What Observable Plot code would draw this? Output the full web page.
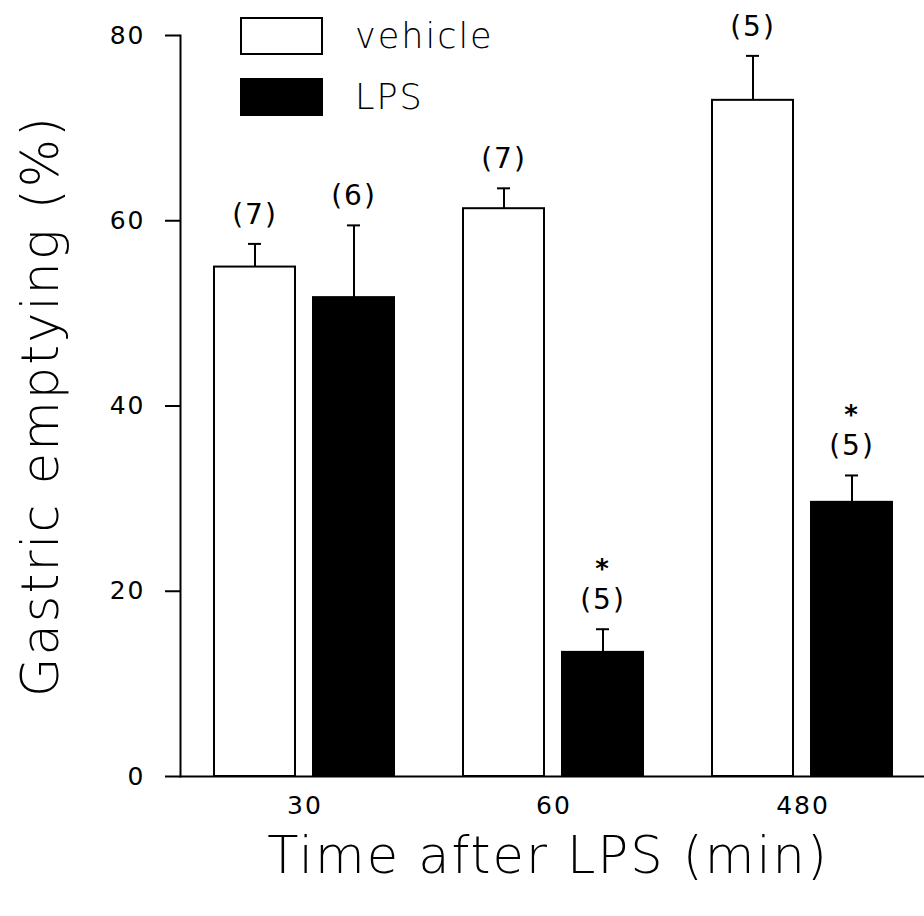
<!DOCTYPE html>
<html>
<head>
<meta charset="utf-8">
<script src="https://cdn.jsdelivr.net/npm/d3@7"></script>
<script src="https://cdn.jsdelivr.net/npm/@observablehq/plot@0.6"></script>
<style>
  html, body { margin: 0; padding: 0; background: #fff; }
  #wrap { position: relative; width: 924px; height: 916px; font-family: "DejaVu Sans", sans-serif; }
  #wrap svg text { letter-spacing: 2px; }
  #legend { position: absolute; left: 240px; top: 17px; }
  .row { display: flex; align-items: center; height: 38px; margin-bottom: 23px; }
  .sw { width: 79px; height: 34px; border: 2px solid #000; }
  .lab { margin-left: 32px; font-size: 35px; color: #000; letter-spacing: 2px; font-weight: 200; }
</style>
</head>
<body>
<div id="wrap"><div id="legend"></div></div>
<script>
const times = ["30", "60", "480"];
const series = ["vehicle", "LPS"];
const seriesFill = ["white", "black"];
const vehicleMean = [55.0, 61.3, 73.0];
const vehicleErr = [2.5, 2.2, 4.8];
const vehicleN = [7, 7, 5];
const lpsMean = [51.7, 13.4, 29.6];
const lpsErr = [7.8, 2.5, 2.9];
const lpsN = [6, 5, 5];
const lpsSignificant = [false, true, true];
const yTicks = [0, 20, 40, 60, 80];
const xTitle = "Time after LPS (min)";
const yTitle = "Gastric emptying (%)";

const rows = [];
times.forEach((t, i) => {
  rows.push({time: t, series: "vehicle", mean: vehicleMean[i], err: vehicleErr[i], n: vehicleN[i], sig: false});
  rows.push({time: t, series: "LPS", mean: lpsMean[i], err: lpsErr[i], n: lpsN[i], sig: lpsSignificant[i]});
});
const errTop = d => d.mean + d.err;

const chart = Plot.plot({
  width: 924,
  height: 916,
  marginLeft: 179,
  marginRight: -4,
  marginTop: 35,
  marginBottom: 140,
  style: {fontFamily: "DejaVu Sans, sans-serif", background: "white", color: "black"},
  fx: {domain: times, padding: 0},
  x: {domain: series, paddingInner: 0.18, paddingOuter: 0.3375, axis: null},
  y: {domain: [0, 80]},
  marks: [
    Plot.barY(rows.filter(d => d.series === "vehicle"), {fx: "time", x: "series", y: "mean", fill: seriesFill[0], stroke: "black", strokeWidth: 2}),
    Plot.barY(rows.filter(d => d.series === "LPS"), {fx: "time", x: "series", y: "mean", fill: seriesFill[1], stroke: "black", strokeWidth: 2}),
    Plot.ruleX(rows, {fx: "time", x: "series", y1: "mean", y2: errTop, stroke: "black", strokeWidth: 2}),
    Plot.tickY(rows, {fx: "time", x: "series", y: errTop, stroke: "black", strokeWidth: 2, insetLeft: 34, insetRight: 34}),
    Plot.text(rows, {fx: "time", x: "series", y: errTop, text: d => `(${d.n})`, dy: -29, fontSize: 28, fill: "black"}),
    Plot.text(rows.filter(d => d.sig), {fx: "time", x: "series", y: errTop, text: () => "*", dy: -60, fontSize: 26, fontWeight: "bold", fill: "black"}),
    Plot.ruleY([0], {stroke: "black", strokeWidth: 2}),
    Plot.frame({anchor: "left", facetAnchor: "left", stroke: "black", strokeWidth: 2}),
    Plot.axisY({ticks: yTicks, tickSize: 15, tickPadding: 20, fontSize: 25, label: null, strokeWidth: 2}),
    Plot.axisFx({anchor: "bottom", tickSize: 0, tickPadding: 20, fontSize: 25, label: null}),
    Plot.text([{time: "30"}], {fx: "time", frameAnchor: "left", text: () => yTitle, rotate: -90, textAnchor: "middle", lineAnchor: "middle", dx: -139, fontSize: 51, fontWeight: 200, fill: "black"}),
    Plot.text([{time: "60"}], {fx: "time", frameAnchor: "bottom", text: () => xTitle, textAnchor: "middle", lineAnchor: "middle", dx: -6, dy: 80, fontSize: 51, fontWeight: 200, fill: "black"})
  ]
});
document.getElementById("wrap").prepend(chart);

const legend = document.getElementById("legend");
series.forEach((s, i) => {
  const row = document.createElement("div");
  row.className = "row";
  const sw = document.createElement("div");
  sw.className = "sw";
  sw.style.background = seriesFill[i];
  const lab = document.createElement("div");
  lab.className = "lab";
  lab.textContent = s;
  row.append(sw, lab);
  legend.append(row);
});
</script>
</body>
</html>
